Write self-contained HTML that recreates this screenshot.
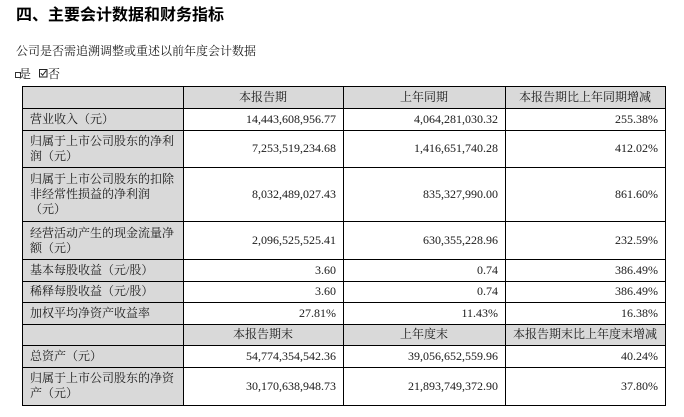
<!DOCTYPE html>
<html><head><meta charset="utf-8">
<style>
html,body{margin:0;padding:0;background:#fff;}
body{width:684px;height:417px;position:relative;overflow:hidden;font-family:"Liberation Serif","Noto Serif CJK SC","Noto Serif CJK JP","Noto Serif CJK TC","Noto Serif SC","Source Han Serif SC","AR PL UMing CN",serif;color:#1a1a1a;}
.t{position:absolute;white-space:nowrap;}
.c{position:absolute;display:flex;align-items:center;box-sizing:border-box;font-size:12px;line-height:15px;white-space:nowrap;}
.g{background:#d9d9d9;}
.l{padding-left:8px;}
.r{justify-content:flex-end;padding-right:7px;}
.m{justify-content:center;}
.h{position:absolute;left:22px;width:644px;height:1px;background:#000;}
.v{position:absolute;top:86px;height:320px;width:1px;background:#000;}
</style></head><body>
<div class="t" style="left:16px;top:3px;font-size:16px;line-height:20px;font-weight:700;font-family:'Noto Sans CJK SC',sans-serif;color:#000;">四、主要会计数据和财务指标</div>
<div class="t" style="left:16px;top:42px;font-size:12px;line-height:18px;">公司是否需追溯调整或重述以前年度会计数据</div>
<div style="position:absolute;left:15px;top:72px;width:4px;height:4px;border:1px solid #333;"></div>
<div class="t" style="left:19px;top:65px;font-size:12px;line-height:18px;">是</div>
<svg style="position:absolute;left:39px;top:68px" width="9" height="10" viewBox="0 0 9 10"><rect x="0.5" y="1.5" width="7.5" height="7.5" fill="none" stroke="#222" stroke-width="1"/><path d="M1.8 5.2 L3.6 7.2 L7.2 2.6" fill="none" stroke="#222" stroke-width="1"/></svg>
<div class="t" style="left:48px;top:65px;font-size:12px;line-height:18px;">否</div>

<div class="c g" style="left:22px;top:86px;width:161px;height:22px;"></div>
<div class="c g m" style="left:183px;top:86px;width:160px;height:22px;">本报告期</div>
<div class="c g m" style="left:343px;top:86px;width:162px;height:22px;">上年同期</div>
<div class="c g m" style="left:505px;top:86px;width:160px;height:22px;">本报告期比上年同期增减</div>

<div class="c g l" style="left:22px;top:108px;width:161px;height:22px;">营业收入（元）</div>
<div class="c r" style="left:183px;top:108px;width:160px;height:22px;">14,443,608,956.77</div>
<div class="c r" style="left:343px;top:108px;width:162px;height:22px;">4,064,281,030.32</div>
<div class="c r" style="left:505px;top:108px;width:160px;height:22px;">255.38%</div>

<div class="c g l" style="left:22px;top:130px;width:161px;height:37px;">归属于上市公司股东的净利<br>润（元）</div>
<div class="c r" style="left:183px;top:130px;width:160px;height:37px;">7,253,519,234.68</div>
<div class="c r" style="left:343px;top:130px;width:162px;height:37px;">1,416,651,740.28</div>
<div class="c r" style="left:505px;top:130px;width:160px;height:37px;">412.02%</div>

<div class="c g l" style="left:22px;top:167px;width:161px;height:54px;">归属于上市公司股东的扣除<br>非经常性损益的净利润<br>（元）</div>
<div class="c r" style="left:183px;top:167px;width:160px;height:54px;">8,032,489,027.43</div>
<div class="c r" style="left:343px;top:167px;width:162px;height:54px;">835,327,990.00</div>
<div class="c r" style="left:505px;top:167px;width:160px;height:54px;">861.60%</div>

<div class="c g l" style="left:22px;top:221px;width:161px;height:38px;padding-top:2px;">经营活动产生的现金流量净<br>额（元）</div>
<div class="c r" style="left:183px;top:221px;width:160px;height:38px;">2,096,525,525.41</div>
<div class="c r" style="left:343px;top:221px;width:162px;height:38px;">630,355,228.96</div>
<div class="c r" style="left:505px;top:221px;width:160px;height:38px;">232.59%</div>

<div class="c g l" style="left:22px;top:259px;width:161px;height:22px;">基本每股收益（元/股）</div>
<div class="c r" style="left:183px;top:259px;width:160px;height:22px;">3.60</div>
<div class="c r" style="left:343px;top:259px;width:162px;height:22px;">0.74</div>
<div class="c r" style="left:505px;top:259px;width:160px;height:22px;">386.49%</div>

<div class="c g l" style="left:22px;top:281px;width:161px;height:21px;">稀释每股收益（元/股）</div>
<div class="c r" style="left:183px;top:281px;width:160px;height:21px;">3.60</div>
<div class="c r" style="left:343px;top:281px;width:162px;height:21px;">0.74</div>
<div class="c r" style="left:505px;top:281px;width:160px;height:21px;">386.49%</div>

<div class="c g l" style="left:22px;top:302px;width:161px;height:22px;">加权平均净资产收益率</div>
<div class="c r" style="left:183px;top:302px;width:160px;height:22px;">27.81%</div>
<div class="c r" style="left:343px;top:302px;width:162px;height:22px;">11.43%</div>
<div class="c r" style="left:505px;top:302px;width:160px;height:22px;">16.38%</div>

<div class="c g" style="left:22px;top:324px;width:161px;height:21px;"></div>
<div class="c g m" style="left:183px;top:324px;width:160px;height:21px;">本报告期末</div>
<div class="c g m" style="left:343px;top:324px;width:162px;height:21px;">上年度末</div>
<div class="c g m" style="left:505px;top:324px;width:160px;height:21px;">本报告期末比上年度末增减</div>

<div class="c g l" style="left:22px;top:345px;width:161px;height:22px;">总资产（元）</div>
<div class="c r" style="left:183px;top:345px;width:160px;height:22px;">54,774,354,542.36</div>
<div class="c r" style="left:343px;top:345px;width:162px;height:22px;">39,056,652,559.96</div>
<div class="c r" style="left:505px;top:345px;width:160px;height:22px;">40.24%</div>

<div class="c g l" style="left:22px;top:367px;width:161px;height:38px;">归属于上市公司股东的净资<br>产（元）</div>
<div class="c r" style="left:183px;top:367px;width:160px;height:38px;">30,170,638,948.73</div>
<div class="c r" style="left:343px;top:367px;width:162px;height:38px;">21,893,749,372.90</div>
<div class="c r" style="left:505px;top:367px;width:160px;height:38px;">37.80%</div>

<div class="h" style="top:86px"></div>
<div class="h" style="top:108px"></div>
<div class="h" style="top:130px"></div>
<div class="h" style="top:167px"></div>
<div class="h" style="top:221px"></div>
<div class="h" style="top:259px"></div>
<div class="h" style="top:281px"></div>
<div class="h" style="top:302px"></div>
<div class="h" style="top:324px"></div>
<div class="h" style="top:345px"></div>
<div class="h" style="top:367px"></div>
<div class="h" style="top:405px"></div>
<div class="v" style="left:22px"></div>
<div class="v" style="left:183px"></div>
<div class="v" style="left:343px"></div>
<div class="v" style="left:505px"></div>
<div class="v" style="left:665px"></div>
</body></html>
